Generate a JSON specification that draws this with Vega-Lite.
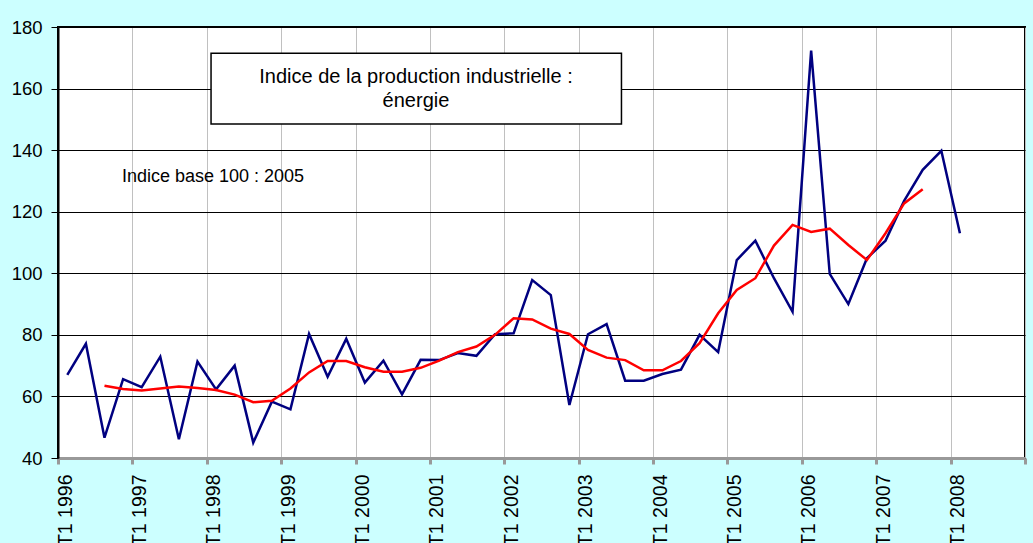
{
  "$schema": "https://vega.github.io/schema/vega-lite/v6.json",
  "width": 967,
  "height": 431,
  "autosize": {"type": "none"},
  "padding": {"left": 58, "top": 27, "right": 8, "bottom": 85},
  "background": "#CCFFFF",
  "config": {
    "view": {"fill": "white", "stroke": "black", "strokeWidth": 2},
    "font": "Liberation Sans"
  },
  "datasets": {
    "serie": [
      {"q": 0, "trimestre": "T1 1996", "indice": 67.0, "mm": null},
      {"q": 1, "trimestre": "T2 1996", "indice": 77.1, "mm": null},
      {"q": 2, "trimestre": "T3 1996", "indice": 46.6, "mm": 63.5},
      {"q": 3, "trimestre": "T4 1996", "indice": 65.6, "mm": 62.4},
      {"q": 4, "trimestre": "T1 1997", "indice": 63.0, "mm": 61.9},
      {"q": 5, "trimestre": "T2 1997", "indice": 72.9, "mm": 62.6},
      {"q": 6, "trimestre": "T3 1997", "indice": 46.1, "mm": 63.2},
      {"q": 7, "trimestre": "T4 1997", "indice": 71.3, "mm": 62.7},
      {"q": 8, "trimestre": "T1 1998", "indice": 62.3, "mm": 62.1},
      {"q": 9, "trimestre": "T2 1998", "indice": 70.0, "mm": 60.6},
      {"q": 10, "trimestre": "T3 1998", "indice": 45.0, "mm": 58.1},
      {"q": 11, "trimestre": "T4 1998", "indice": 58.3, "mm": 58.6},
      {"q": 12, "trimestre": "T1 1999", "indice": 55.8, "mm": 62.6},
      {"q": 13, "trimestre": "T2 1999", "indice": 80.3, "mm": 67.8},
      {"q": 14, "trimestre": "T3 1999", "indice": 66.4, "mm": 71.5},
      {"q": 15, "trimestre": "T4 1999", "indice": 78.7, "mm": 71.5},
      {"q": 16, "trimestre": "T1 2000", "indice": 64.5, "mm": 69.5},
      {"q": 17, "trimestre": "T2 2000", "indice": 71.6, "mm": 68.0},
      {"q": 18, "trimestre": "T3 2000", "indice": 60.7, "mm": 68.0},
      {"q": 19, "trimestre": "T4 2000", "indice": 71.9, "mm": 69.3},
      {"q": 20, "trimestre": "T1 2001", "indice": 71.8, "mm": 71.6},
      {"q": 21, "trimestre": "T2 2001", "indice": 74.1, "mm": 74.4},
      {"q": 22, "trimestre": "T3 2001", "indice": 73.2, "mm": 76.2},
      {"q": 23, "trimestre": "T4 2001", "indice": 80.2, "mm": 80.0},
      {"q": 24, "trimestre": "T1 2002", "indice": 80.5, "mm": 85.4},
      {"q": 25, "trimestre": "T2 2002", "indice": 97.8, "mm": 85.0},
      {"q": 26, "trimestre": "T3 2002", "indice": 92.9, "mm": 82.0},
      {"q": 27, "trimestre": "T4 2002", "indice": 57.2, "mm": 80.3},
      {"q": 28, "trimestre": "T1 2003", "indice": 80.2, "mm": 75.1},
      {"q": 29, "trimestre": "T2 2003", "indice": 83.5, "mm": 72.6},
      {"q": 30, "trimestre": "T3 2003", "indice": 65.1, "mm": 71.8},
      {"q": 31, "trimestre": "T4 2003", "indice": 65.1, "mm": 68.5},
      {"q": 32, "trimestre": "T1 2004", "indice": 67.3, "mm": 68.5},
      {"q": 33, "trimestre": "T2 2004", "indice": 68.7, "mm": 71.5},
      {"q": 34, "trimestre": "T3 2004", "indice": 80.0, "mm": 77.3},
      {"q": 35, "trimestre": "T4 2004", "indice": 74.4, "mm": 87.0},
      {"q": 36, "trimestre": "T1 2005", "indice": 104.3, "mm": 94.6},
      {"q": 37, "trimestre": "T2 2005", "indice": 110.6, "mm": 98.4},
      {"q": 38, "trimestre": "T3 2005", "indice": 98.4, "mm": 109.0},
      {"q": 39, "trimestre": "T4 2005", "indice": 87.5, "mm": 115.7},
      {"q": 40, "trimestre": "T1 2006", "indice": 172.3, "mm": 113.4},
      {"q": 41, "trimestre": "T2 2006", "indice": 99.8, "mm": 114.5},
      {"q": 42, "trimestre": "T3 2006", "indice": 90.0, "mm": 109.2},
      {"q": 43, "trimestre": "T4 2006", "indice": 104.9, "mm": 104.3},
      {"q": 44, "trimestre": "T1 2007", "indice": 110.6, "mm": 113.0},
      {"q": 45, "trimestre": "T2 2007", "indice": 123.5, "mm": 122.7},
      {"q": 46, "trimestre": "T3 2007", "indice": 133.6, "mm": 127.3},
      {"q": 47, "trimestre": "T4 2007", "indice": 139.8, "mm": null},
      {"q": 48, "trimestre": "T1 2008", "indice": 113.0, "mm": null}
    ],
    "cadre": [
      {"x1": 7.73, "x2": 29.8, "y1": 171.5, "y2": 148.5}
    ],
    "titre": [
      {"x": 18.75, "y": 161.8, "label": ["Indice de la production industrielle :", "énergie"]}
    ],
    "note": [
      {"x": 2.94, "y": 129.5, "label": "Indice base 100 : 2005"}
    ]
  },
  "layer": [
    {
      "data": {"name": "serie"},
      "mark": {"type": "line", "color": "#000080", "strokeWidth": 2.5},
      "encoding": {
        "x": {
          "field": "q",
          "type": "quantitative",
          "scale": {"domain": [-0.5, 51.5], "nice": false, "zero": false},
          "axis": {
            "values": [-0.5, 3.5, 7.5, 11.5, 15.5, 19.5, 23.5, 27.5, 31.5, 35.5, 39.5, 43.5, 47.5, 51.5],
            "labelExpr": "datum.value < 51 ? 'T1 ' + (1996 + (datum.value + 0.5) / 4) : ''",
            "labelAngle": 270,
            "labelFontSize": 19.5,
            "labelColor": "black",
            "labelOffset": 7,
            "labelPadding": 10,
            "labelOverlap": false,
            "labelFlush": false,
            "tickSize": 6,
            "tickColor": "#999999",
            "tickWidth": 3,
            "domainColor": "#999999",
            "domainWidth": 3,
            "grid": true,
            "gridColor": "#c0c0c0",
            "gridWidth": 1,
            "title": null
          }
        },
        "y": {
          "field": "indice",
          "type": "quantitative",
          "scale": {"domain": [40, 180], "nice": false, "zero": false},
          "axis": {
            "values": [40, 60, 80, 100, 120, 140, 160, 180],
            "labelFontSize": 18.5,
            "labelColor": "black",
            "labelPadding": 9,
            "tickSize": 7,
            "tickColor": "black",
            "tickWidth": 1,
            "domainColor": "black",
            "domainWidth": 2,
            "grid": true,
            "gridColor": "black",
            "gridWidth": 1,
            "title": null
          }
        }
      }
    },
    {
      "data": {"name": "serie"},
      "mark": {"type": "line", "color": "#FF0000", "strokeWidth": 2.5},
      "encoding": {
        "x": {"field": "q", "type": "quantitative", "scale": {"domain": [-0.5, 51.5], "nice": false, "zero": false}},
        "y": {"field": "mm", "type": "quantitative", "scale": {"domain": [40, 180], "nice": false, "zero": false}}
      }
    },
    {
      "data": {"name": "cadre"},
      "mark": {"type": "rect", "fill": "white", "stroke": "black", "strokeWidth": 1.5},
      "encoding": {
        "x": {"field": "x1", "type": "quantitative"},
        "x2": {"field": "x2"},
        "y": {"field": "y1", "type": "quantitative"},
        "y2": {"field": "y2"}
      }
    },
    {
      "data": {"name": "titre"},
      "mark": {"type": "text", "fontSize": 20, "align": "center", "baseline": "alphabetic", "lineHeight": 24, "color": "black"},
      "encoding": {
        "x": {"field": "x", "type": "quantitative"},
        "y": {"field": "y", "type": "quantitative"},
        "text": {"field": "label"}
      }
    },
    {
      "data": {"name": "note"},
      "mark": {"type": "text", "fontSize": 18, "align": "left", "baseline": "alphabetic", "color": "black"},
      "encoding": {
        "x": {"field": "x", "type": "quantitative"},
        "y": {"field": "y", "type": "quantitative"},
        "text": {"field": "label"}
      }
    }
  ]
}
